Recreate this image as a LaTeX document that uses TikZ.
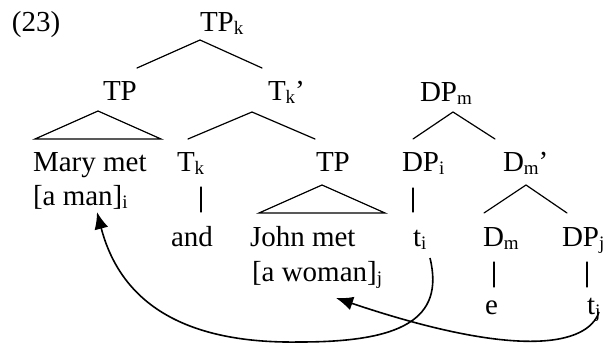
\documentclass[tikz,border=0pt]{standalone}
\usepackage{fontspec}
\setmainfont{Liberation Serif}
\usetikzlibrary{arrows.meta}
\newcommand\sbs[1]{\raisebox{-3pt}{\fontsize{19}{19}\selectfont #1}}
\begin{document}
\begin{tikzpicture}[x=1pt,y=-1pt,
  lbl/.style={anchor=base west,inner sep=0pt,outer sep=0pt,font=\fontsize{29}{29}\selectfont},
  branch/.style={line width=1.2pt,line cap=round},
  mover/.style={line width=1.6pt,-{Latex[length=17pt,width=14pt]}}]
\useasboundingbox (0,0) rectangle (603,344);
% labels
\node[lbl] (ex) at (12,32) {(23)};
\node[lbl] (tpk) at (200,32) {TP\sbs{k}};
\node[lbl] (tpl) at (103,101) {TP};
\node[lbl] (tkbar) at (268,101) {T\sbs{k}’};
\node[lbl] (dpm) at (420,102) {DP\sbs{m}};
\node[lbl] (mary) at (33,172) {Mary met};
\node[lbl] (aman) at (33,206) {[a man]\sbs{i}};
\node[lbl] (tk) at (177,172) {T\sbs{k}};
\node[lbl] (tpr) at (316,172) {TP};
\node[lbl] (dpi) at (402,172) {DP\sbs{i}};
\node[lbl] (dmbar) at (503,172) {D\sbs{m}’};
\node[lbl] (and) at (171,247) {and};
\node[lbl] (john) at (250,247) {John met};
\node[lbl] (awoman) at (252,282) {[a woman]\sbs{j}};
\node[lbl] (ti) at (413,247) {t\sbs{i}};
\node[lbl] (dm) at (483,247) {D\sbs{m}};
\node[lbl] (dpj) at (562,247) {DP\sbs{j}};
\node[lbl] (e) at (485,315) {e};
\node[lbl] (tj) at (587,315) {t\sbs{j}};
% branch points
\coordinate (a1) at (200,40);  \coordinate (a1l) at (137,68);  \coordinate (a1r) at (262,68);
\coordinate (a2) at (98,111);  \coordinate (a2l) at (35,139);  \coordinate (a2r) at (161,139);
\coordinate (a3) at (252,112); \coordinate (a3l) at (188,139); \coordinate (a3r) at (315,139);
\coordinate (a4) at (453,112); \coordinate (a4l) at (413,139); \coordinate (a4r) at (495,139);
\coordinate (b1) at (201,187); \coordinate (b1e) at (201,212);
\coordinate (a5) at (322,185); \coordinate (a5l) at (259,213); \coordinate (a5r) at (385,213);
\coordinate (b2) at (413,188); \coordinate (b2e) at (413,212);
\coordinate (a6) at (526,185); \coordinate (a6l) at (484,213); \coordinate (a6r) at (567,213);
\coordinate (b3) at (494,262); \coordinate (b3e) at (494,287);
\coordinate (b4) at (587,262); \coordinate (b4e) at (587,287);
\draw[branch] (a1l) -- (a1) -- (a1r);
\draw[branch] (a2l) -- (a2) -- (a2r) -- cycle;
\draw[branch] (a3l) -- (a3) -- (a3r);
\draw[branch] (a4l) -- (a4) -- (a4r);
\draw[branch] (b1) -- (b1e);
\draw[branch] (a5l) -- (a5) -- (a5r) -- cycle;
\draw[branch] (b2) -- (b2e);
\draw[branch] (a6l) -- (a6) -- (a6r);
\draw[branch] (b3) -- (b3e);
\draw[branch] (b4) -- (b4e);
% movement arrows
\coordinate (m1s) at (430,258); \coordinate (m1m) at (300,342); \coordinate (m1e) at (97,212);
\draw[mover] (m1s) .. controls (445,320) and (400,342) .. (m1m)
  .. controls (180,344) and (120,300) .. (m1e);
\coordinate (m2s) at (599,312); \coordinate (m2e) at (336,298);
\draw[mover] (m2s) .. controls (588,345) and (520,360) .. (m2e);
\end{tikzpicture}
\end{document}
